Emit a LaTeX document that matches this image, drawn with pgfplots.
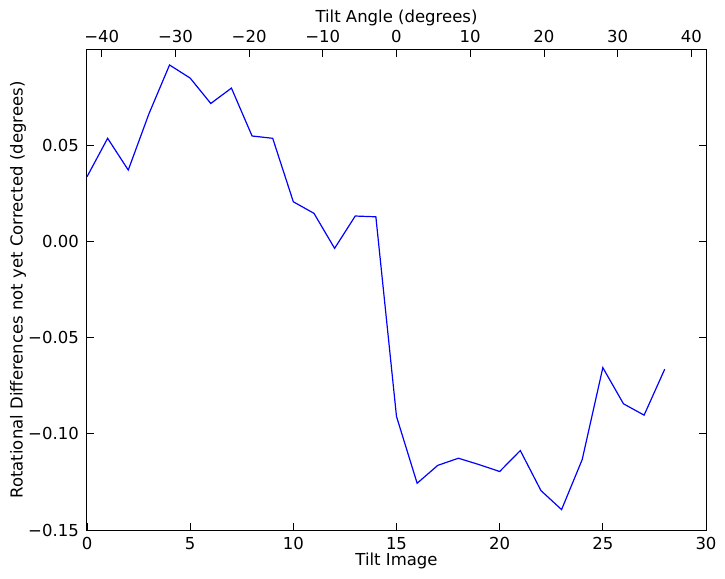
\documentclass[border=0pt]{standalone}
\usepackage{fontspec}
\setmainfont{DejaVu Sans}
\usepackage{pgfplots}
\pgfplotsset{compat=1.18}
\begin{document}
\begin{tikzpicture}[font=\fontsize{16.5bp}{19bp}\selectfont]
\begin{axis}[
  name=main, scale only axis, width=619bp, height=480bp,
  xmin=0, xmax=30, ymin=-0.15, ymax=0.0995,
  xtick={0,5,10,15,20,25,30},
  xticklabels={0,5,10,15,20,25,30},
  ytick={-0.15,-0.10,-0.05,0,0.05},
  yticklabels={−0.15,−0.10,−0.05,0.00,0.05},
  xtick pos=left, ytick pos=both,
  tick align=inside, major tick length=7bp,
  tick style={black, line width=0.7bp},
  axis line style={black, line width=1bp},
  xticklabel style={inner sep=0pt, yshift=-7bp},
  yticklabel style={inner sep=0pt, xshift=-8bp},
  xlabel={Tilt Image},
  xlabel style={at={(axis description cs:0.5,0)}, anchor=north, inner sep=0pt, yshift=-23bp},
  ylabel={Rotational Differences not yet Corrected (degrees)},
  ylabel style={at={(axis description cs:0,0.5)}, anchor=north, inner sep=0pt, yshift=77bp},
  /pgf/number format/assume math mode=true,
  clip=false,
]
\addplot[blue, line width=1.2bp, mark=none] coordinates {
(0,0.0336) (1,0.0536) (2,0.0371) (3,0.0663) (4,0.0917) (5,0.0849) (6,0.0717)
(7,0.0797) (8,0.0548) (9,0.0536) (10,0.0206) (11,0.0146) (12,-0.0036) (13,0.0132)
(14,0.0128) (15,-0.0910) (16,-0.1257) (17,-0.1164) (18,-0.1127) (19,-0.1160)
(20,-0.1196) (21,-0.1087) (22,-0.1295) (23,-0.1394) (24,-0.1134) (25,-0.0656)
(26,-0.0844) (27,-0.0903) (28,-0.0664)
};
\end{axis}
\begin{axis}[
  at={(main.south west)}, anchor=south west,
  scale only axis, width=619bp, height=480bp,
  xmin=-42, xmax=42, ymin=0, ymax=1,
  axis x line*=top, axis y line=none,
  xtick={-40,-30,-20,-10,0,10,20,30,40},
  xticklabels={−40,−30,−20,−10,0,10,20,30,40},
  tick align=inside, major tick length=7bp,
  tick style={black, line width=0.7bp},
  axis line style={black, line width=1bp},
  xticklabel style={inner sep=0pt, yshift=7bp},
  xlabel={Tilt Angle (degrees)},
  xlabel style={at={(axis description cs:0.5,1)}, anchor=south, inner sep=0pt, yshift=24bp},
  /pgf/number format/assume math mode=true,
]
\end{axis}
\pgfresetboundingbox
\path[use as bounding box] ([xshift=-87bp,yshift=-49bp]main.south west) rectangle ([xshift=19bp,yshift=50bp]main.north east);
\end{tikzpicture}
\end{document}
